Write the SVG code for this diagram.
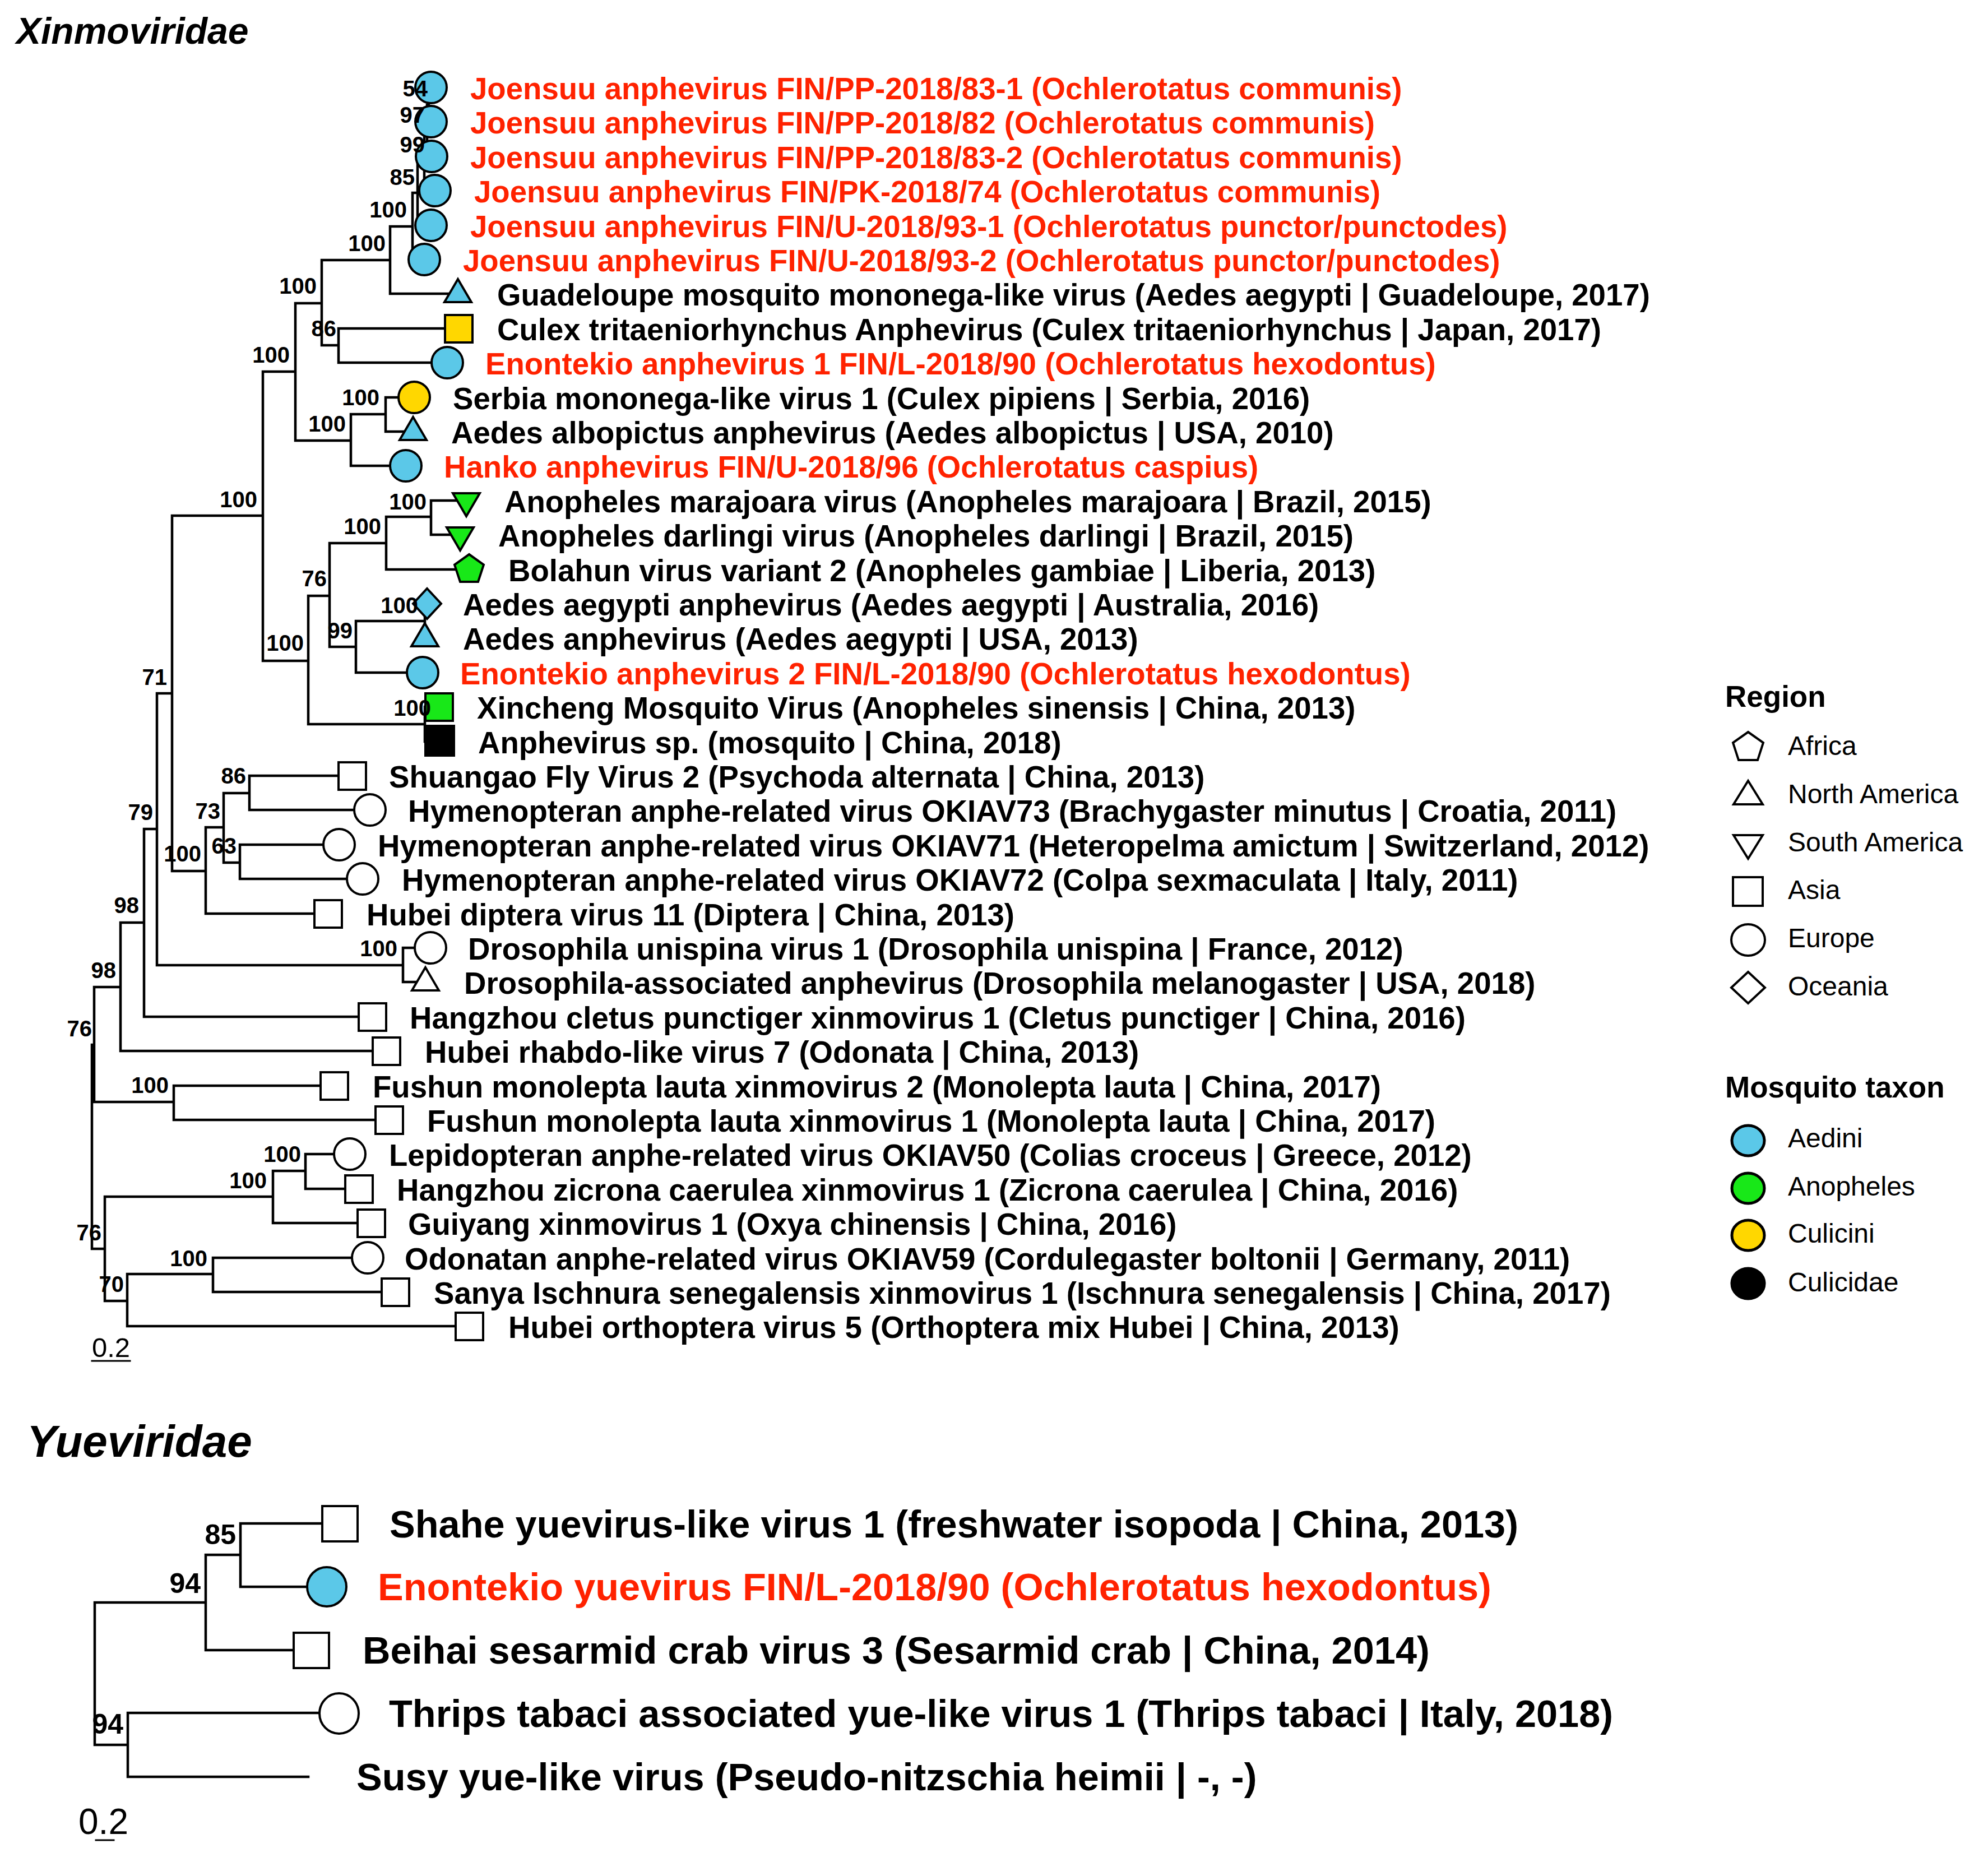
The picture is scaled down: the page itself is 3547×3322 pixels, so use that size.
<svg xmlns="http://www.w3.org/2000/svg" width="3547" height="3322" viewBox="0 0 3547 3322">
<style>
text{font-family:"Liberation Sans",Arial,Helvetica,sans-serif}
.t{font-weight:bold;font-size:54.6px;fill:#000}
.bt{font-weight:bold;font-size:68.5px;fill:#000}
text.r{fill:#FF2200}
.n{font-weight:bold;font-size:40px;text-anchor:end;fill:#000}
.nb{font-weight:bold;font-size:50px;text-anchor:end;fill:#000}
.title{font-weight:bold;font-style:italic;fill:#000}
.lt{font-weight:bold;font-size:53px;fill:#000}
.li{font-size:48px;fill:#000}
.ln{stroke:#000;stroke-width:4.5;fill:none;stroke-linecap:square}
.s{stroke:#000;stroke-width:4;stroke-linejoin:miter}
.w{fill:#fff}.b{fill:#5BC8E8}.g{fill:#18E818}.y{fill:#FFD700}.k{fill:#000}
</style>
<rect width="3547" height="3322" fill="#fff"/>
<text class="title" x="29" y="78" font-size="66">Xinmoviridae</text>
<text class="title" x="48" y="2599" font-size="80">Yueviridae</text>

<g id="connectors">
<path class="ln" d="
M765 156V217M765 156H769M765 217H769
M762 187V279M762 187H765M762 279H770
M757 233V340M757 233H762M757 340H776
M745 287V402M745 287H757M745 402H769
M736 344V463M736 344H745M736 463H757
M696 404V524M696 404H736M696 524H817
M574 464V616M574 464H696M574 616H604
M604 586V647M604 586H818M604 647H798
M527 541V786M527 541H574M527 786H626
M626 739V831M626 739H688M626 831H724
M688 709V770M688 709H739M688 770H737
M469 663V1179M469 663H527M469 1179H550
M550 1063V1292M550 1063H588M550 1292H758
M588 969V1154M588 969H689M588 1154H635
M689 922V1016M689 922H769M689 1016H837
M769 893V954M769 893H832M769 954H821
M635 1108V1200M635 1108H758M635 1200H754
M758 1077V1138M758 1077H762M758 1138H758
M758 1261V1323M758 1261H784M758 1323H784
M307 920V1554M307 920H469M307 1554H367
M367 1476V1630M367 1476H399M367 1630H585
M399 1415V1539M399 1415H445M399 1539H428
M445 1384V1445M445 1384H628M445 1445H660
M428 1507V1568M428 1507H605M428 1568H647
M280 1237V1722M280 1237H307M280 1722H719
M719 1691V1752M719 1691H768M719 1752H759
M257 1479V1814M257 1479H280M257 1814H664
M215 1646V1875M215 1646H257M215 1875H689
M168 1761V1966M168 1761H215M168 1966H310
M310 1937V1998M310 1937H596M310 1998H694
M164 1864V2228M164 1864H168M164 2228H187
M187 2135V2321M187 2135H487M187 2321H227
M487 2089V2182M487 2089H545M487 2182H662
M545 2059V2121M545 2059H624M545 2121H640
M227 2273V2366M227 2273H380M227 2366H837
M380 2244V2305M380 2244H656M380 2305H705
"/>
<path class="ln" d="M164 2428H232" style="stroke-width:3"/>
<path class="ln" d="
M429 2718V2831M429 2718H606M429 2831H583
M367 2774V2944M367 2774H429M367 2944H555
M169 2859V3113M169 2859H367M169 3113H228
M228 3056V3170M228 3056H605M228 3170H550
"/>
<path class="ln" d="M171 3283H203" style="stroke-width:3"/>
</g>

<g id="leaf1"><circle class="s b" cx="769" cy="156" r="28"/><text class="t r" x="839" y="176.5">Joensuu anphevirus FIN/PP-2018/83-1 (Ochlerotatus communis)</text></g>
<g id="leaf2"><circle class="s b" cx="769" cy="217" r="28"/><text class="t r" x="839" y="237.5">Joensuu anphevirus FIN/PP-2018/82 (Ochlerotatus communis)</text></g>
<g id="leaf3"><circle class="s b" cx="770" cy="279" r="28"/><text class="t r" x="839" y="299.5">Joensuu anphevirus FIN/PP-2018/83-2 (Ochlerotatus communis)</text></g>
<g id="leaf4"><circle class="s b" cx="776" cy="340" r="28"/><text class="t r" x="846" y="360.5">Joensuu anphevirus FIN/PK-2018/74 (Ochlerotatus communis)</text></g>
<g id="leaf5"><circle class="s b" cx="769" cy="402" r="28"/><text class="t r" x="839" y="422.5">Joensuu anphevirus FIN/U-2018/93-1 (Ochlerotatus punctor/punctodes)</text></g>
<g id="leaf6"><circle class="s b" cx="757" cy="463" r="28"/><text class="t r" x="826" y="483.5">Joensuu anphevirus FIN/U-2018/93-2 (Ochlerotatus punctor/punctodes)</text></g>
<g id="leaf7"><polygon class="s b" points="817,498 841,539 793,539"/><text class="t" x="887" y="544.5">Guadeloupe mosquito mononega-like virus (Aedes aegypti | Guadeloupe, 2017)</text></g>
<g id="leaf8"><rect class="s y" x="794" y="562" width="49" height="49"/><text class="t" x="887" y="606.5">Culex tritaeniorhynchus Anphevirus (Culex tritaeniorhynchus | Japan, 2017)</text></g>
<g id="leaf9"><circle class="s b" cx="798" cy="647" r="28"/><text class="t r" x="866" y="667.5">Enontekio anphevirus 1 FIN/L-2018/90 (Ochlerotatus hexodontus)</text></g>
<g id="leaf10"><circle class="s y" cx="739" cy="709" r="28"/><text class="t" x="808" y="729.5">Serbia mononega-like virus 1 (Culex pipiens | Serbia, 2016)</text></g>
<g id="leaf11"><polygon class="s b" points="737,744 761,785 713,785"/><text class="t" x="805" y="790.5">Aedes albopictus anphevirus (Aedes albopictus | USA, 2010)</text></g>
<g id="leaf12"><circle class="s b" cx="724" cy="831" r="28"/><text class="t r" x="792" y="851.5">Hanko anphevirus FIN/U-2018/96 (Ochlerotatus caspius)</text></g>
<g id="leaf13"><polygon class="s g" points="808,880 856,880 832,921"/><text class="t" x="900" y="913.5">Anopheles marajoara virus (Anopheles marajoara | Brazil, 2015)</text></g>
<g id="leaf14"><polygon class="s g" points="797,941 845,941 821,982"/><text class="t" x="889" y="974.5">Anopheles darlingi virus (Anopheles darlingi | Brazil, 2015)</text></g>
<g id="leaf15"><polygon class="s g" points="837,989 863,1007.5 853,1038 821,1038 811,1007.5"/><text class="t" x="907" y="1036.5">Bolahun virus variant 2 (Anopheles gambiae | Liberia, 2013)</text></g>
<g id="leaf16"><polygon class="s b" points="762,1050 787,1077 762,1104 737,1077"/><text class="t" x="826" y="1097.5">Aedes aegypti anphevirus (Aedes aegypti | Australia, 2016)</text></g>
<g id="leaf17"><polygon class="s b" points="758,1112 782,1153 734,1153"/><text class="t" x="826" y="1158.5">Aedes anphevirus (Aedes aegypti | USA, 2013)</text></g>
<g id="leaf18"><circle class="s b" cx="754" cy="1200" r="28"/><text class="t r" x="821" y="1220.5">Enontekio anphevirus 2 FIN/L-2018/90 (Ochlerotatus hexodontus)</text></g>
<g id="leaf19"><rect class="s g" x="759" y="1237" width="49" height="49"/><text class="t" x="851" y="1281.5">Xincheng Mosquito Virus (Anopheles sinensis | China, 2013)</text></g>
<g id="leaf20"><rect class="s k" x="759" y="1295" width="51" height="53"/><text class="t" x="853" y="1343.5">Anphevirus sp. (mosquito | China, 2018)</text></g>
<g id="leaf21"><rect class="s w" x="604" y="1360" width="49" height="49"/><text class="t" x="694" y="1404.5">Shuangao Fly Virus 2 (Psychoda alternata | China, 2013)</text></g>
<g id="leaf22"><circle class="s w" cx="660" cy="1445" r="28"/><text class="t" x="728" y="1465.5">Hymenopteran anphe-related virus OKIAV73 (Brachygaster minutus | Croatia, 2011)</text></g>
<g id="leaf23"><circle class="s w" cx="605" cy="1507" r="28"/><text class="t" x="674" y="1527.5">Hymenopteran anphe-related virus OKIAV71 (Heteropelma amictum | Switzerland, 2012)</text></g>
<g id="leaf24"><circle class="s w" cx="647" cy="1568" r="28"/><text class="t" x="717" y="1588.5">Hymenopteran anphe-related virus OKIAV72 (Colpa sexmaculata | Italy, 2011)</text></g>
<g id="leaf25"><rect class="s w" x="561" y="1606" width="49" height="49"/><text class="t" x="654" y="1650.5">Hubei diptera virus 11 (Diptera | China, 2013)</text></g>
<g id="leaf26"><circle class="s w" cx="768" cy="1691" r="28"/><text class="t" x="835" y="1711.5">Drosophila unispina virus 1 (Drosophila unispina | France, 2012)</text></g>
<g id="leaf27"><polygon class="s w" points="759,1726 783,1767 735,1767"/><text class="t" x="828" y="1772.5">Drosophila-associated anphevirus (Drosophila melanogaster | USA, 2018)</text></g>
<g id="leaf28"><rect class="s w" x="640" y="1790" width="49" height="49"/><text class="t" x="731" y="1834.5">Hangzhou cletus punctiger xinmovirus 1 (Cletus punctiger | China, 2016)</text></g>
<g id="leaf29"><rect class="s w" x="665" y="1851" width="49" height="49"/><text class="t" x="758" y="1895.5">Hubei rhabdo-like virus 7 (Odonata | China, 2013)</text></g>
<g id="leaf30"><rect class="s w" x="572" y="1913" width="49" height="49"/><text class="t" x="665" y="1957.5">Fushun monolepta lauta xinmovirus 2 (Monolepta lauta | China, 2017)</text></g>
<g id="leaf31"><rect class="s w" x="670" y="1974" width="49" height="49"/><text class="t" x="762" y="2018.5">Fushun monolepta lauta xinmovirus 1 (Monolepta lauta | China, 2017)</text></g>
<g id="leaf32"><circle class="s w" cx="624" cy="2059" r="28"/><text class="t" x="694" y="2079.5">Lepidopteran anphe-related virus OKIAV50 (Colias croceus | Greece, 2012)</text></g>
<g id="leaf33"><rect class="s w" x="616" y="2097" width="49" height="49"/><text class="t" x="708" y="2141.5">Hangzhou zicrona caerulea xinmovirus 1 (Zicrona caerulea | China, 2016)</text></g>
<g id="leaf34"><rect class="s w" x="638" y="2158" width="49" height="49"/><text class="t" x="728" y="2202.5">Guiyang xinmovirus 1 (Oxya chinensis | China, 2016)</text></g>
<g id="leaf35"><circle class="s w" cx="656" cy="2244" r="28"/><text class="t" x="722" y="2264.5">Odonatan anphe-related virus OKIAV59 (Cordulegaster boltonii | Germany, 2011)</text></g>
<g id="leaf36"><rect class="s w" x="681" y="2281" width="49" height="49"/><text class="t" x="774" y="2325.5">Sanya Ischnura senegalensis xinmovirus 1 (Ischnura senegalensis | China, 2017)</text></g>
<g id="leaf37"><rect class="s w" x="813" y="2342" width="49" height="49"/><text class="t" x="907" y="2386.5">Hubei orthoptera virus 5 (Orthoptera mix Hubei | China, 2013)</text></g>

<g id="yue1"><rect class="s w" x="575" y="2687" width="63" height="63"/><text class="bt" x="695" y="2743">Shahe yuevirus-like virus 1 (freshwater isopoda | China, 2013)</text></g>
<g id="yue2"><circle class="s b" cx="583" cy="2831" r="35"/><text class="bt r" x="674" y="2855">Enontekio yuevirus FIN/L-2018/90 (Ochlerotatus hexodontus)</text></g>
<g id="yue3"><rect class="s w" x="524" y="2913" width="63" height="63"/><text class="bt" x="647" y="2968">Beihai sesarmid crab virus 3 (Sesarmid crab | China, 2014)</text></g>
<g id="yue4"><ellipse class="s w" cx="605" cy="3057" rx="35" ry="36"/><text class="bt" x="694" y="3081">Thrips tabaci associated yue-like virus 1 (Thrips tabaci | Italy, 2018)</text></g>
<g id="yue5"><text class="bt" x="636" y="3194">Susy yue-like virus (Pseudo-nitzschia heimii | -, -)</text></g>

<g id="support">
<text class="n" x="763" y="172">54</text>
<text class="n" x="758" y="219">97</text>
<text class="n" x="758" y="272">99</text>
<text class="n" x="740" y="330">85</text>
<text class="n" x="726" y="388">100</text>
<text class="n" x="688" y="448">100</text>
<text class="n" x="565" y="524">100</text>
<text class="n" x="600" y="600">86</text>
<text class="n" x="517" y="647">100</text>
<text class="n" x="677" y="723">100</text>
<text class="n" x="617" y="770">100</text>
<text class="n" x="459" y="905">100</text>
<text class="n" x="761" y="909">100</text>
<text class="n" x="680" y="953">100</text>
<text class="n" x="583" y="1046">76</text>
<text class="n" x="746" y="1094">100</text>
<text class="n" x="629" y="1139">99</text>
<text class="n" x="542" y="1161">100</text>
<text class="n" x="298" y="1222">71</text>
<text class="n" x="769" y="1277">100</text>
<text class="n" x="439" y="1398">86</text>
<text class="n" x="393" y="1461">73</text>
<text class="n" x="273" y="1463">79</text>
<text class="n" x="422" y="1523">63</text>
<text class="n" x="359" y="1537">100</text>
<text class="n" x="248" y="1629">98</text>
<text class="n" x="709" y="1706">100</text>
<text class="n" x="207" y="1745">98</text>
<text class="n" x="164" y="1849">76</text>
<text class="n" x="301" y="1950">100</text>
<text class="n" x="537" y="2073">100</text>
<text class="n" x="476" y="2120">100</text>
<text class="n" x="181" y="2213">76</text>
<text class="n" x="370" y="2259">100</text>
<text class="n" x="221" y="2305">70</text>
<text x="164" y="2421" font-size="49" fill="#000">0.2</text>
<text class="nb" x="421" y="2755">85</text>
<text class="nb" x="358" y="2842">94</text>
<text class="nb" x="220" y="3093">94</text>
<text x="140" y="3272" font-size="64" fill="#000">0.2</text>
</g>

<g id="legend">
<text class="lt" x="3078" y="1261">Region</text>
<polygon class="s w" points="3119,1306 3146,1325 3136,1356 3102,1356 3092,1325"/>
<text class="li" x="3190" y="1347">Africa</text>
<polygon class="s w" points="3119,1393 3145,1435 3093,1435"/>
<text class="li" x="3190" y="1433">North America</text>
<polygon class="s w" points="3093,1490 3145,1490 3119,1532"/>
<text class="li" x="3190" y="1519">South America</text>
<rect class="s w" x="3092" y="1565" width="53" height="51"/>
<text class="li" x="3190" y="1604">Asia</text>
<ellipse class="s w" cx="3119" cy="1677" rx="30" ry="28"/>
<text class="li" x="3190" y="1690">Europe</text>
<polygon class="s w" points="3119,1734 3149,1762 3119,1790 3089,1762"/>
<text class="li" x="3190" y="1776">Oceania</text>
<text class="lt" x="3078" y="1958">Mosquito taxon</text>
<ellipse class="b" cx="3119" cy="2035" rx="29" ry="27" stroke="#000" stroke-width="5"/>
<text class="li" x="3190" y="2047">Aedini</text>
<ellipse class="g" cx="3119" cy="2120" rx="29" ry="27" stroke="#000" stroke-width="5"/>
<text class="li" x="3190" y="2133">Anopheles</text>
<ellipse class="y" cx="3119" cy="2204" rx="29" ry="27" stroke="#000" stroke-width="5"/>
<text class="li" x="3190" y="2217">Culicini</text>
<ellipse class="k" cx="3119" cy="2290" rx="29" ry="27" stroke="#000" stroke-width="5"/>
<text class="li" x="3190" y="2304">Culicidae</text>
</g>
</svg>
